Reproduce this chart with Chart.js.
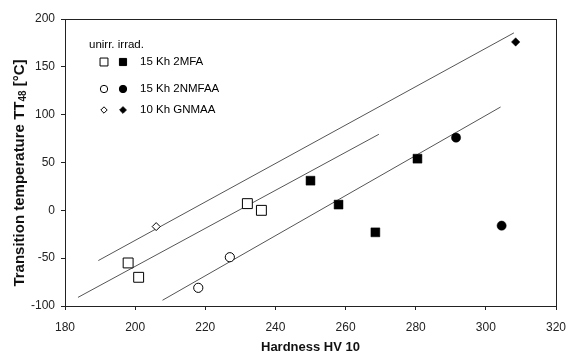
<!DOCTYPE html>
<html><head><meta charset="utf-8">
<script src="https://cdn.jsdelivr.net/npm/chart.js@4/dist/chart.umd.min.js"></script>
<style>html,body{margin:0;padding:0;background:#fff}#wrap{width:567px;height:352px}</style>
</head><body><div id="wrap"><canvas id="c" width="567" height="352"></canvas></div>
<script>
// Data
const mfaUnirrX = [198, 201, 232, 236];
const mfaUnirrY = [-55, -70, 7, 0];
const mfaIrrX = [250, 258, 268.5, 280.5];
const mfaIrrY = [31, 6, -23, 54];
const nmfaaUnirrX = [218, 227];
const nmfaaUnirrY = [-81, -49];
const nmfaaIrrX = [291.5, 304.5];
const nmfaaIrrY = [76, -16];
const gnmaaUnirrX = [206];
const gnmaaUnirrY = [-17];
const gnmaaIrrX = [308.5];
const gnmaaIrrY = [176];
// trend lines (start/end)
const line1X = [189.5, 308]; const line1Y = [-52.5, 185.5];
const line2X = [183.7, 269.5]; const line2Y = [-91, 79.5];
const line3X = [207.8, 304.2]; const line3Y = [-94, 108];
const xTicks = [180, 200, 220, 240, 260, 280, 300, 320];
const yTicks = [-100, -50, 0, 50, 100, 150, 200];
const legendNames = ['15 Kh 2MFA', '15 Kh 2NMFAA', '10 Kh GNMAA'];
const legendHeader = 'unirr. irrad.';
const xTitle = 'Hardness HV 10';
const yTitleParts = ['Transition temperature TT', '48', ' [°C]'];

const pts = (xs, ys) => xs.map((x, i) => ({x, y: ys[i]}));
const FONT = 'Liberation Sans, Arial, sans-serif';

function marker(style, open, r) {
  return {type: 'scatter', showLine: false, pointStyle: style, pointRadius: r, pointHoverRadius: r,
    pointBackgroundColor: open ? '#fff' : '#000', pointBorderColor: '#000', pointBorderWidth: open ? 1 : 0.5};
}
function line(xs, ys) {
  return {type: 'line', data: pts(xs, ys), showLine: true, pointRadius: 0, borderColor: '#555', borderWidth: 1, fill: false, order: 10};
}

const datasets = [
  line(line1X, line1Y), line(line2X, line2Y), line(line3X, line3Y),
  Object.assign(marker('rect', true, 7), {data: pts(mfaUnirrX, mfaUnirrY)}),
  Object.assign(marker('rect', false, 6.3), {data: pts(mfaIrrX, mfaIrrY)}),
  Object.assign(marker('circle', true, 4.6), {data: pts(nmfaaUnirrX, nmfaaUnirrY)}),
  Object.assign(marker('circle', false, 4.6), {data: pts(nmfaaIrrX, nmfaaIrrY)}),
  Object.assign(marker('rectRot', true, 4), {data: pts(gnmaaUnirrX, gnmaaUnirrY)}),
  Object.assign(marker('rectRot', false, 4.2), {data: pts(gnmaaIrrX, gnmaaIrrY)})
];

const frame = {
  id: 'frame',
  afterDraw(chart) {
    const {ctx, chartArea: a} = chart;
    ctx.save();
    ctx.strokeStyle = '#222'; ctx.lineWidth = 1;
    ctx.strokeRect(Math.round(a.left) + 0.5, Math.round(a.top) + 0.5, Math.round(a.right - a.left), Math.round(a.bottom - a.top));
    // axis titles
    ctx.fillStyle = '#111';
    ctx.textBaseline = 'middle';
    ctx.textAlign = 'center';
    ctx.font = 'bold 13px ' + FONT;
    ctx.fillText(xTitle, (a.left + a.right) / 2, 347);
    // y title with subscript
    ctx.save();
    ctx.translate(20, 173);
    ctx.rotate(-Math.PI / 2);
    ctx.textAlign = 'left';
    const fMain = 'bold 15px ' + FONT, fSub = 'bold 10px ' + FONT;
    ctx.font = fMain; const w0 = ctx.measureText(yTitleParts[0]).width;
    const w2 = ctx.measureText(yTitleParts[2]).width;
    ctx.font = fSub; const w1 = ctx.measureText(yTitleParts[1]).width;
    let x = -(w0 + w1 + w2) / 2;
    ctx.font = fMain; ctx.fillText(yTitleParts[0], x, 0); x += w0;
    ctx.font = fSub; ctx.fillText(yTitleParts[1], x, 3); x += w1;
    ctx.font = fMain; ctx.fillText(yTitleParts[2], x, 0);
    ctx.restore();
    // legend
    ctx.textAlign = 'left';
    ctx.fillStyle = '#000';
    ctx.font = '11.5px ' + FONT;
    ctx.fillText(legendHeader, 89, 45);
    const styles = [['rect', 7, 6.3], ['circle', 4.6, 4.6], ['rectRot', 4, 4.2]];
    const rowsY = [62, 89, 110];
    styles.forEach((s, i) => {
      const y = rowsY[i];
      ctx.fillStyle = '#fff'; ctx.strokeStyle = '#000'; ctx.lineWidth = 1;
      Chart.helpers.drawPoint(ctx, {pointStyle: s[0], radius: s[1] * 0.8, rotation: 0, borderWidth: 1}, 104, y);
      ctx.fillStyle = '#000';
      Chart.helpers.drawPoint(ctx, {pointStyle: s[0], radius: s[2] * 0.8, rotation: 0, borderWidth: 0.5}, 123, y);
      ctx.fillStyle = '#000';
      ctx.font = '11.5px ' + FONT;
      ctx.fillText(legendNames[i], 140, y);
    });
    ctx.restore();
  }
};

new Chart(document.getElementById('c'), {
  type: 'scatter',
  data: {datasets},
  options: {
    responsive: false, animation: false, devicePixelRatio: 1,
    layout: {padding: {top: 19, right: 11, left: 0, bottom: 0}},
    plugins: {legend: {display: false}, tooltip: {enabled: false}},
    scales: {
      x: {
        type: 'linear', min: 180, max: 320,
        afterBuildTicks: s => { s.ticks = xTicks.map(v => ({value: v})); },
        afterFit: s => { s.height = 46; s.paddingLeft = 0; s.paddingRight = 0; },
        grid: {drawOnChartArea: false, tickLength: 4, color: '#222'},
        border: {display: false},
        ticks: {color: '#222', font: {family: FONT, size: 12}, padding: 10, maxRotation: 0}
      },
      y: {
        type: 'linear', min: -100, max: 200,
        afterBuildTicks: s => { s.ticks = yTicks.map(v => ({value: v})); },
        afterFit: s => { s.width = 65; s.paddingTop = 0; s.paddingBottom = 0; },
        grid: {drawOnChartArea: false, tickLength: 4, color: '#222'},
        border: {display: false},
        ticks: {color: '#222', font: {family: FONT, size: 12}, padding: 6}
      }
    }
  },
  plugins: [frame]
});
</script></body></html>
